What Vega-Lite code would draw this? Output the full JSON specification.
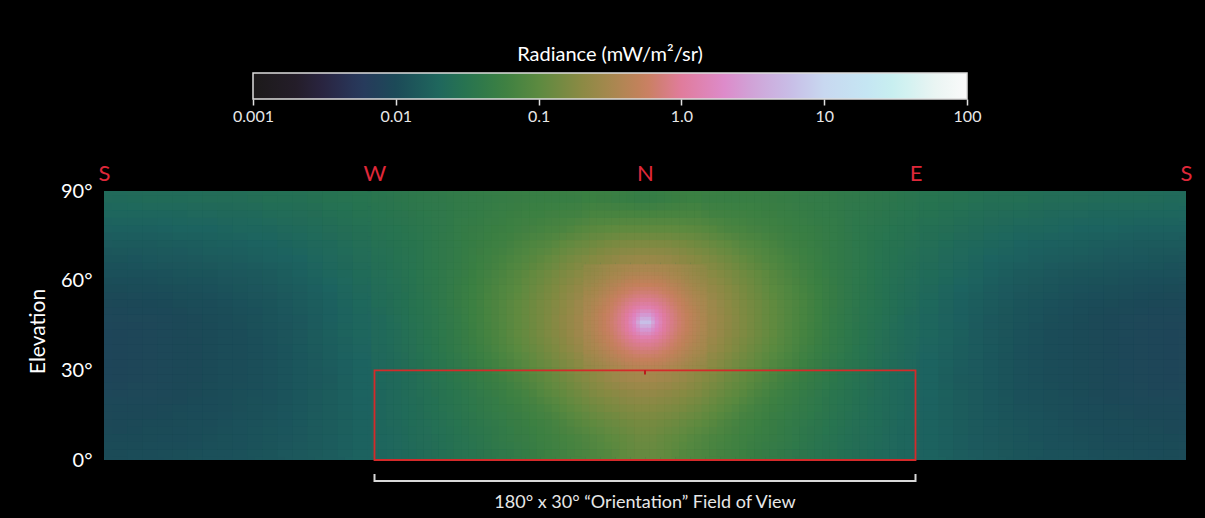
{
"$schema": "https://vega.github.io/schema/vega-lite/v6.json",
"width": 1082, "height": 269,
"autosize": {"type": "none"},
"padding": {"left": 104, "top": 191, "right": 19, "bottom": 58},
"background": "#000000",
"config": {"view": {"stroke": null, "fill": "#1f5856"}, "font": "Lato", "axis": {"grid": false, "domain": false, "ticks": false}},
"datasets": {
"outer": [
{"a":0,"e":0,"r":0.0103},{"a":10,"e":0,"r":0.0106},{"a":20,"e":0,"r":0.0109},{"a":30,"e":0,"r":0.0114},{"a":40,"e":0,"r":0.012},{"a":50,"e":0,"r":0.0128},{"a":60,"e":0,"r":0.0138},{"a":70,"e":0,"r":0.015},{"a":80,"e":0,"r":0.0169},{"a":270,"e":0,"r":0.0169},{"a":280,"e":0,"r":0.015},{"a":290,"e":0,"r":0.0138},{"a":300,"e":0,"r":0.0128},{"a":310,"e":0,"r":0.012},{"a":320,"e":0,"r":0.0114},{"a":330,"e":0,"r":0.0109},{"a":340,"e":0,"r":0.0106},{"a":350,"e":0,"r":0.0103},
{"a":0,"e":5,"r":0.00995},{"a":10,"e":5,"r":0.0102},{"a":20,"e":5,"r":0.0105},{"a":30,"e":5,"r":0.0111},{"a":40,"e":5,"r":0.0116},{"a":50,"e":5,"r":0.0125},{"a":60,"e":5,"r":0.0135},{"a":70,"e":5,"r":0.0149},{"a":80,"e":5,"r":0.017},{"a":270,"e":5,"r":0.017},{"a":280,"e":5,"r":0.0149},{"a":290,"e":5,"r":0.0135},{"a":300,"e":5,"r":0.0125},{"a":310,"e":5,"r":0.0116},{"a":320,"e":5,"r":0.0111},{"a":330,"e":5,"r":0.0105},{"a":340,"e":5,"r":0.0102},{"a":350,"e":5,"r":0.00995},
{"a":0,"e":10,"r":0.00962},{"a":10,"e":10,"r":0.00986},{"a":20,"e":10,"r":0.0102},{"a":30,"e":10,"r":0.0107},{"a":40,"e":10,"r":0.0114},{"a":50,"e":10,"r":0.0122},{"a":60,"e":10,"r":0.0132},{"a":70,"e":10,"r":0.0148},{"a":80,"e":10,"r":0.017},{"a":270,"e":10,"r":0.017},{"a":280,"e":10,"r":0.0148},{"a":290,"e":10,"r":0.0132},{"a":300,"e":10,"r":0.0122},{"a":310,"e":10,"r":0.0114},{"a":320,"e":10,"r":0.0107},{"a":330,"e":10,"r":0.0102},{"a":340,"e":10,"r":0.00986},{"a":350,"e":10,"r":0.00962},
{"a":0,"e":15,"r":0.00933},{"a":10,"e":15,"r":0.00957},{"a":20,"e":15,"r":0.00998},{"a":30,"e":15,"r":0.0105},{"a":40,"e":15,"r":0.0111},{"a":50,"e":15,"r":0.0119},{"a":60,"e":15,"r":0.0131},{"a":70,"e":15,"r":0.0148},{"a":80,"e":15,"r":0.0172},{"a":270,"e":15,"r":0.0172},{"a":280,"e":15,"r":0.0148},{"a":290,"e":15,"r":0.0131},{"a":300,"e":15,"r":0.0119},{"a":310,"e":15,"r":0.0111},{"a":320,"e":15,"r":0.0105},{"a":330,"e":15,"r":0.00998},{"a":340,"e":15,"r":0.00957},{"a":350,"e":15,"r":0.00933},
{"a":0,"e":20,"r":0.00906},{"a":10,"e":20,"r":0.00929},{"a":20,"e":20,"r":0.00973},{"a":30,"e":20,"r":0.0102},{"a":40,"e":20,"r":0.0109},{"a":50,"e":20,"r":0.0117},{"a":60,"e":20,"r":0.013},{"a":70,"e":20,"r":0.0148},{"a":80,"e":20,"r":0.0174},{"a":270,"e":20,"r":0.0174},{"a":280,"e":20,"r":0.0148},{"a":290,"e":20,"r":0.013},{"a":300,"e":20,"r":0.0117},{"a":310,"e":20,"r":0.0109},{"a":320,"e":20,"r":0.0102},{"a":330,"e":20,"r":0.00973},{"a":340,"e":20,"r":0.00929},{"a":350,"e":20,"r":0.00906},
{"a":0,"e":25,"r":0.00885},{"a":10,"e":25,"r":0.0091},{"a":20,"e":25,"r":0.0095},{"a":30,"e":25,"r":0.00998},{"a":40,"e":25,"r":0.0107},{"a":50,"e":25,"r":0.0115},{"a":60,"e":25,"r":0.0129},{"a":70,"e":25,"r":0.0147},{"a":80,"e":25,"r":0.0175},{"a":270,"e":25,"r":0.0175},{"a":280,"e":25,"r":0.0147},{"a":290,"e":25,"r":0.0129},{"a":300,"e":25,"r":0.0115},{"a":310,"e":25,"r":0.0107},{"a":320,"e":25,"r":0.00998},{"a":330,"e":25,"r":0.0095},{"a":340,"e":25,"r":0.0091},{"a":350,"e":25,"r":0.00885},
{"a":0,"e":30,"r":0.00877},{"a":10,"e":30,"r":0.00904},{"a":20,"e":30,"r":0.00946},{"a":30,"e":30,"r":0.00998},{"a":40,"e":30,"r":0.0107},{"a":50,"e":30,"r":0.0116},{"a":60,"e":30,"r":0.013},{"a":70,"e":30,"r":0.0151},{"a":80,"e":30,"r":0.018},{"a":270,"e":30,"r":0.018},{"a":280,"e":30,"r":0.0151},{"a":290,"e":30,"r":0.013},{"a":300,"e":30,"r":0.0116},{"a":310,"e":30,"r":0.0107},{"a":320,"e":30,"r":0.00998},{"a":330,"e":30,"r":0.00946},{"a":340,"e":30,"r":0.00904},{"a":350,"e":30,"r":0.00877},
{"a":0,"e":35,"r":0.00879},{"a":10,"e":35,"r":0.00908},{"a":20,"e":35,"r":0.0095},{"a":30,"e":35,"r":0.0101},{"a":40,"e":35,"r":0.0108},{"a":50,"e":35,"r":0.0117},{"a":60,"e":35,"r":0.0133},{"a":70,"e":35,"r":0.0155},{"a":80,"e":35,"r":0.0186},{"a":270,"e":35,"r":0.0186},{"a":280,"e":35,"r":0.0155},{"a":290,"e":35,"r":0.0133},{"a":300,"e":35,"r":0.0117},{"a":310,"e":35,"r":0.0108},{"a":320,"e":35,"r":0.0101},{"a":330,"e":35,"r":0.0095},{"a":340,"e":35,"r":0.00908},{"a":350,"e":35,"r":0.00879},
{"a":0,"e":40,"r":0.00881},{"a":10,"e":40,"r":0.00912},{"a":20,"e":40,"r":0.00955},{"a":30,"e":40,"r":0.0101},{"a":40,"e":40,"r":0.0108},{"a":50,"e":40,"r":0.0119},{"a":60,"e":40,"r":0.0134},{"a":70,"e":40,"r":0.0158},{"a":80,"e":40,"r":0.019},{"a":270,"e":40,"r":0.019},{"a":280,"e":40,"r":0.0158},{"a":290,"e":40,"r":0.0134},{"a":300,"e":40,"r":0.0119},{"a":310,"e":40,"r":0.0108},{"a":320,"e":40,"r":0.0101},{"a":330,"e":40,"r":0.00955},{"a":340,"e":40,"r":0.00912},{"a":350,"e":40,"r":0.00881},
{"a":0,"e":45,"r":0.00893},{"a":10,"e":45,"r":0.00925},{"a":20,"e":45,"r":0.00968},{"a":30,"e":45,"r":0.0103},{"a":40,"e":45,"r":0.011},{"a":50,"e":45,"r":0.0121},{"a":60,"e":45,"r":0.0137},{"a":70,"e":45,"r":0.016},{"a":80,"e":45,"r":0.0193},{"a":270,"e":45,"r":0.0193},{"a":280,"e":45,"r":0.016},{"a":290,"e":45,"r":0.0137},{"a":300,"e":45,"r":0.0121},{"a":310,"e":45,"r":0.011},{"a":320,"e":45,"r":0.0103},{"a":330,"e":45,"r":0.00968},{"a":340,"e":45,"r":0.00925},{"a":350,"e":45,"r":0.00893},
{"a":0,"e":50,"r":0.00946},{"a":10,"e":50,"r":0.00977},{"a":20,"e":50,"r":0.0102},{"a":30,"e":50,"r":0.0108},{"a":40,"e":50,"r":0.0116},{"a":50,"e":50,"r":0.0127},{"a":60,"e":50,"r":0.0144},{"a":70,"e":50,"r":0.0168},{"a":80,"e":50,"r":0.0202},{"a":270,"e":50,"r":0.0202},{"a":280,"e":50,"r":0.0168},{"a":290,"e":50,"r":0.0144},{"a":300,"e":50,"r":0.0127},{"a":310,"e":50,"r":0.0116},{"a":320,"e":50,"r":0.0108},{"a":330,"e":50,"r":0.0102},{"a":340,"e":50,"r":0.00977},{"a":350,"e":50,"r":0.00946},
{"a":0,"e":55,"r":0.0102},{"a":10,"e":55,"r":0.0106},{"a":20,"e":55,"r":0.011},{"a":30,"e":55,"r":0.0117},{"a":40,"e":55,"r":0.0125},{"a":50,"e":55,"r":0.0136},{"a":60,"e":55,"r":0.0153},{"a":70,"e":55,"r":0.0178},{"a":80,"e":55,"r":0.0213},{"a":270,"e":55,"r":0.0213},{"a":280,"e":55,"r":0.0178},{"a":290,"e":55,"r":0.0153},{"a":300,"e":55,"r":0.0136},{"a":310,"e":55,"r":0.0125},{"a":320,"e":55,"r":0.0117},{"a":330,"e":55,"r":0.011},{"a":340,"e":55,"r":0.0106},{"a":350,"e":55,"r":0.0102},
{"a":0,"e":60,"r":0.0113},{"a":10,"e":60,"r":0.0116},{"a":20,"e":60,"r":0.0122},{"a":30,"e":60,"r":0.0128},{"a":40,"e":60,"r":0.0136},{"a":50,"e":60,"r":0.0147},{"a":60,"e":60,"r":0.0165},{"a":70,"e":60,"r":0.019},{"a":80,"e":60,"r":0.0225},{"a":270,"e":60,"r":0.0225},{"a":280,"e":60,"r":0.019},{"a":290,"e":60,"r":0.0165},{"a":300,"e":60,"r":0.0147},{"a":310,"e":60,"r":0.0136},{"a":320,"e":60,"r":0.0128},{"a":330,"e":60,"r":0.0122},{"a":340,"e":60,"r":0.0116},{"a":350,"e":60,"r":0.0113},
{"a":0,"e":65,"r":0.0126},{"a":10,"e":65,"r":0.0129},{"a":20,"e":65,"r":0.0135},{"a":30,"e":65,"r":0.0141},{"a":40,"e":65,"r":0.0151},{"a":50,"e":65,"r":0.0161},{"a":60,"e":65,"r":0.0179},{"a":70,"e":65,"r":0.0203},{"a":80,"e":65,"r":0.024},{"a":270,"e":65,"r":0.024},{"a":280,"e":65,"r":0.0203},{"a":290,"e":65,"r":0.0179},{"a":300,"e":65,"r":0.0161},{"a":310,"e":65,"r":0.0151},{"a":320,"e":65,"r":0.0141},{"a":330,"e":65,"r":0.0135},{"a":340,"e":65,"r":0.0129},{"a":350,"e":65,"r":0.0126},
{"a":0,"e":70,"r":0.0143},{"a":10,"e":70,"r":0.0146},{"a":20,"e":70,"r":0.0152},{"a":30,"e":70,"r":0.0159},{"a":40,"e":70,"r":0.0168},{"a":50,"e":70,"r":0.0179},{"a":60,"e":70,"r":0.0196},{"a":70,"e":70,"r":0.022},{"a":80,"e":70,"r":0.0254},{"a":270,"e":70,"r":0.0254},{"a":280,"e":70,"r":0.022},{"a":290,"e":70,"r":0.0196},{"a":300,"e":70,"r":0.0179},{"a":310,"e":70,"r":0.0168},{"a":320,"e":70,"r":0.0159},{"a":330,"e":70,"r":0.0152},{"a":340,"e":70,"r":0.0146},{"a":350,"e":70,"r":0.0143},
{"a":0,"e":75,"r":0.0164},{"a":10,"e":75,"r":0.0167},{"a":20,"e":75,"r":0.0173},{"a":30,"e":75,"r":0.0181},{"a":40,"e":75,"r":0.019},{"a":50,"e":75,"r":0.0201},{"a":60,"e":75,"r":0.0217},{"a":70,"e":75,"r":0.024},{"a":80,"e":75,"r":0.0271},{"a":270,"e":75,"r":0.0271},{"a":280,"e":75,"r":0.024},{"a":290,"e":75,"r":0.0217},{"a":300,"e":75,"r":0.0201},{"a":310,"e":75,"r":0.019},{"a":320,"e":75,"r":0.0181},{"a":330,"e":75,"r":0.0173},{"a":340,"e":75,"r":0.0167},{"a":350,"e":75,"r":0.0164},
{"a":0,"e":80,"r":0.019},{"a":10,"e":80,"r":0.0194},{"a":20,"e":80,"r":0.0199},{"a":30,"e":80,"r":0.0207},{"a":40,"e":80,"r":0.0216},{"a":50,"e":80,"r":0.0228},{"a":60,"e":80,"r":0.024},{"a":70,"e":80,"r":0.0263},{"a":80,"e":80,"r":0.029},{"a":270,"e":80,"r":0.029},{"a":280,"e":80,"r":0.0263},{"a":290,"e":80,"r":0.024},{"a":300,"e":80,"r":0.0228},{"a":310,"e":80,"r":0.0216},{"a":320,"e":80,"r":0.0207},{"a":330,"e":80,"r":0.0199},{"a":340,"e":80,"r":0.0194},{"a":350,"e":80,"r":0.019},
{"a":0,"e":85,"r":0.0223},{"a":10,"e":85,"r":0.0226},{"a":20,"e":85,"r":0.0231},{"a":30,"e":85,"r":0.0239},{"a":40,"e":85,"r":0.0248},{"a":50,"e":85,"r":0.0261},{"a":60,"e":85,"r":0.0273},{"a":70,"e":85,"r":0.0292},{"a":80,"e":85,"r":0.0318},{"a":270,"e":85,"r":0.0318},{"a":280,"e":85,"r":0.0292},{"a":290,"e":85,"r":0.0273},{"a":300,"e":85,"r":0.0261},{"a":310,"e":85,"r":0.0248},{"a":320,"e":85,"r":0.0239},{"a":330,"e":85,"r":0.0231},{"a":340,"e":85,"r":0.0226},{"a":350,"e":85,"r":0.0223}
],
"mid": [
{"a":90,"e":0,"r":0.0191},{"a":95,"e":0,"r":0.0204},{"a":100,"e":0,"r":0.0223},{"a":105,"e":0,"r":0.0244},{"a":110,"e":0,"r":0.0268},{"a":115,"e":0,"r":0.0293},{"a":120,"e":0,"r":0.0321},{"a":125,"e":0,"r":0.0353},{"a":130,"e":0,"r":0.0393},{"a":135,"e":0,"r":0.0439},{"a":140,"e":0,"r":0.0493},{"a":145,"e":0,"r":0.0555},{"a":150,"e":0,"r":0.0625},{"a":155,"e":0,"r":0.0703},{"a":160,"e":0,"r":0.0791},{"a":165,"e":0,"r":0.0887},{"a":170,"e":0,"r":0.104},{"a":175,"e":0,"r":0.117},{"a":180,"e":0,"r":0.117},{"a":185,"e":0,"r":0.104},{"a":190,"e":0,"r":0.0887},{"a":195,"e":0,"r":0.0791},{"a":200,"e":0,"r":0.0703},{"a":205,"e":0,"r":0.0625},{"a":210,"e":0,"r":0.0555},{"a":215,"e":0,"r":0.0493},{"a":220,"e":0,"r":0.0439},{"a":225,"e":0,"r":0.0393},{"a":230,"e":0,"r":0.0353},{"a":235,"e":0,"r":0.0321},{"a":240,"e":0,"r":0.0293},{"a":245,"e":0,"r":0.0268},{"a":250,"e":0,"r":0.0244},{"a":255,"e":0,"r":0.0223},{"a":260,"e":0,"r":0.0204},{"a":265,"e":0,"r":0.0191},
{"a":90,"e":5,"r":0.0192},{"a":95,"e":5,"r":0.0209},{"a":100,"e":5,"r":0.0229},{"a":105,"e":5,"r":0.025},{"a":110,"e":5,"r":0.0274},{"a":115,"e":5,"r":0.0299},{"a":120,"e":5,"r":0.0331},{"a":125,"e":5,"r":0.0371},{"a":130,"e":5,"r":0.0417},{"a":135,"e":5,"r":0.0469},{"a":140,"e":5,"r":0.0525},{"a":145,"e":5,"r":0.0586},{"a":150,"e":5,"r":0.0666},{"a":155,"e":5,"r":0.0756},{"a":160,"e":5,"r":0.085},{"a":165,"e":5,"r":0.101},{"a":170,"e":5,"r":0.113},{"a":175,"e":5,"r":0.126},{"a":180,"e":5,"r":0.126},{"a":185,"e":5,"r":0.113},{"a":190,"e":5,"r":0.101},{"a":195,"e":5,"r":0.085},{"a":200,"e":5,"r":0.0756},{"a":205,"e":5,"r":0.0666},{"a":210,"e":5,"r":0.0586},{"a":215,"e":5,"r":0.0525},{"a":220,"e":5,"r":0.0469},{"a":225,"e":5,"r":0.0417},{"a":230,"e":5,"r":0.0371},{"a":235,"e":5,"r":0.0331},{"a":240,"e":5,"r":0.0299},{"a":245,"e":5,"r":0.0274},{"a":250,"e":5,"r":0.025},{"a":255,"e":5,"r":0.0229},{"a":260,"e":5,"r":0.0209},{"a":265,"e":5,"r":0.0192},
{"a":90,"e":10,"r":0.0195},{"a":95,"e":10,"r":0.0213},{"a":100,"e":10,"r":0.0233},{"a":105,"e":10,"r":0.0254},{"a":110,"e":10,"r":0.028},{"a":115,"e":10,"r":0.0312},{"a":120,"e":10,"r":0.0352},{"a":125,"e":10,"r":0.0396},{"a":130,"e":10,"r":0.0445},{"a":135,"e":10,"r":0.0498},{"a":140,"e":10,"r":0.0562},{"a":145,"e":10,"r":0.0631},{"a":150,"e":10,"r":0.0736},{"a":155,"e":10,"r":0.09},{"a":160,"e":10,"r":0.104},{"a":165,"e":10,"r":0.118},{"a":170,"e":10,"r":0.131},{"a":175,"e":10,"r":0.145},{"a":180,"e":10,"r":0.145},{"a":185,"e":10,"r":0.131},{"a":190,"e":10,"r":0.118},{"a":195,"e":10,"r":0.104},{"a":200,"e":10,"r":0.09},{"a":205,"e":10,"r":0.0736},{"a":210,"e":10,"r":0.0631},{"a":215,"e":10,"r":0.0562},{"a":220,"e":10,"r":0.0498},{"a":225,"e":10,"r":0.0445},{"a":230,"e":10,"r":0.0396},{"a":235,"e":10,"r":0.0352},{"a":240,"e":10,"r":0.0312},{"a":245,"e":10,"r":0.028},{"a":250,"e":10,"r":0.0254},{"a":255,"e":10,"r":0.0233},{"a":260,"e":10,"r":0.0213},{"a":265,"e":10,"r":0.0195},
{"a":90,"e":15,"r":0.0199},{"a":95,"e":15,"r":0.0217},{"a":100,"e":15,"r":0.0236},{"a":105,"e":15,"r":0.0262},{"a":110,"e":15,"r":0.0294},{"a":115,"e":15,"r":0.0332},{"a":120,"e":15,"r":0.0375},{"a":125,"e":15,"r":0.0422},{"a":130,"e":15,"r":0.0479},{"a":135,"e":15,"r":0.0547},{"a":140,"e":15,"r":0.0628},{"a":145,"e":15,"r":0.0743},{"a":150,"e":15,"r":0.093},{"a":155,"e":15,"r":0.111},{"a":160,"e":15,"r":0.13},{"a":165,"e":15,"r":0.15},{"a":170,"e":15,"r":0.166},{"a":175,"e":15,"r":0.179},{"a":180,"e":15,"r":0.179},{"a":185,"e":15,"r":0.166},{"a":190,"e":15,"r":0.15},{"a":195,"e":15,"r":0.13},{"a":200,"e":15,"r":0.111},{"a":205,"e":15,"r":0.093},{"a":210,"e":15,"r":0.0743},{"a":215,"e":15,"r":0.0628},{"a":220,"e":15,"r":0.0547},{"a":225,"e":15,"r":0.0479},{"a":230,"e":15,"r":0.0422},{"a":235,"e":15,"r":0.0375},{"a":240,"e":15,"r":0.0332},{"a":245,"e":15,"r":0.0294},{"a":250,"e":15,"r":0.0262},{"a":255,"e":15,"r":0.0236},{"a":260,"e":15,"r":0.0217},{"a":265,"e":15,"r":0.0199},
{"a":90,"e":20,"r":0.02},{"a":95,"e":20,"r":0.0219},{"a":100,"e":20,"r":0.0242},{"a":105,"e":20,"r":0.0272},{"a":110,"e":20,"r":0.0309},{"a":115,"e":20,"r":0.0349},{"a":120,"e":20,"r":0.0395},{"a":125,"e":20,"r":0.0455},{"a":130,"e":20,"r":0.0527},{"a":135,"e":20,"r":0.0617},{"a":140,"e":20,"r":0.0743},{"a":145,"e":20,"r":0.094},{"a":150,"e":20,"r":0.112},{"a":155,"e":20,"r":0.136},{"a":160,"e":20,"r":0.162},{"a":165,"e":20,"r":0.19},{"a":170,"e":20,"r":0.212},{"a":175,"e":20,"r":0.231},{"a":180,"e":20,"r":0.231},{"a":185,"e":20,"r":0.212},{"a":190,"e":20,"r":0.19},{"a":195,"e":20,"r":0.162},{"a":200,"e":20,"r":0.136},{"a":205,"e":20,"r":0.112},{"a":210,"e":20,"r":0.094},{"a":215,"e":20,"r":0.0743},{"a":220,"e":20,"r":0.0617},{"a":225,"e":20,"r":0.0527},{"a":230,"e":20,"r":0.0455},{"a":235,"e":20,"r":0.0395},{"a":240,"e":20,"r":0.0349},{"a":245,"e":20,"r":0.0309},{"a":250,"e":20,"r":0.0272},{"a":255,"e":20,"r":0.0242},{"a":260,"e":20,"r":0.0219},{"a":265,"e":20,"r":0.02},
{"a":90,"e":25,"r":0.0202},{"a":95,"e":25,"r":0.0222},{"a":100,"e":25,"r":0.0249},{"a":105,"e":25,"r":0.0284},{"a":110,"e":25,"r":0.0321},{"a":115,"e":25,"r":0.0366},{"a":120,"e":25,"r":0.0423},{"a":125,"e":25,"r":0.0495},{"a":130,"e":25,"r":0.059},{"a":135,"e":25,"r":0.072},{"a":140,"e":25,"r":0.09},{"a":145,"e":25,"r":0.109},{"a":150,"e":25,"r":0.134},{"a":155,"e":25,"r":0.163},{"a":160,"e":25,"r":0.199},{"a":165,"e":25,"r":0.245},{"a":170,"e":25,"r":0.283},{"a":175,"e":25,"r":0.307},{"a":180,"e":25,"r":0.307},{"a":185,"e":25,"r":0.283},{"a":190,"e":25,"r":0.245},{"a":195,"e":25,"r":0.199},{"a":200,"e":25,"r":0.163},{"a":205,"e":25,"r":0.134},{"a":210,"e":25,"r":0.109},{"a":215,"e":25,"r":0.09},{"a":220,"e":25,"r":0.072},{"a":225,"e":25,"r":0.059},{"a":230,"e":25,"r":0.0495},{"a":235,"e":25,"r":0.0423},{"a":240,"e":25,"r":0.0366},{"a":245,"e":25,"r":0.0321},{"a":250,"e":25,"r":0.0284},{"a":255,"e":25,"r":0.0249},{"a":260,"e":25,"r":0.0222},{"a":265,"e":25,"r":0.0202},
{"a":90,"e":30,"r":0.0207},{"a":95,"e":30,"r":0.0231},{"a":100,"e":30,"r":0.0263},{"a":105,"e":30,"r":0.0301},{"a":110,"e":30,"r":0.0343},{"a":115,"e":30,"r":0.0396},{"a":120,"e":30,"r":0.0468},{"a":125,"e":30,"r":0.0561},{"a":130,"e":30,"r":0.069},{"a":135,"e":30,"r":0.083},{"a":140,"e":30,"r":0.104},{"a":145,"e":30,"r":0.128},{"a":150,"e":30,"r":0.159},{"a":155,"e":30,"r":0.201},{"a":200,"e":30,"r":0.201},{"a":205,"e":30,"r":0.159},{"a":210,"e":30,"r":0.128},{"a":215,"e":30,"r":0.104},{"a":220,"e":30,"r":0.083},{"a":225,"e":30,"r":0.069},{"a":230,"e":30,"r":0.0561},{"a":235,"e":30,"r":0.0468},{"a":240,"e":30,"r":0.0396},{"a":245,"e":30,"r":0.0343},{"a":250,"e":30,"r":0.0301},{"a":255,"e":30,"r":0.0263},{"a":260,"e":30,"r":0.0231},{"a":265,"e":30,"r":0.0207},
{"a":90,"e":35,"r":0.0215},{"a":95,"e":35,"r":0.0243},{"a":100,"e":35,"r":0.0278},{"a":105,"e":35,"r":0.0318},{"a":110,"e":35,"r":0.0366},{"a":115,"e":35,"r":0.043},{"a":120,"e":35,"r":0.0515},{"a":125,"e":35,"r":0.063},{"a":130,"e":35,"r":0.0777},{"a":135,"e":35,"r":0.0975},{"a":140,"e":35,"r":0.12},{"a":145,"e":35,"r":0.148},{"a":150,"e":35,"r":0.187},{"a":155,"e":35,"r":0.244},{"a":200,"e":35,"r":0.244},{"a":205,"e":35,"r":0.187},{"a":210,"e":35,"r":0.148},{"a":215,"e":35,"r":0.12},{"a":220,"e":35,"r":0.0975},{"a":225,"e":35,"r":0.0777},{"a":230,"e":35,"r":0.063},{"a":235,"e":35,"r":0.0515},{"a":240,"e":35,"r":0.043},{"a":245,"e":35,"r":0.0366},{"a":250,"e":35,"r":0.0318},{"a":255,"e":35,"r":0.0278},{"a":260,"e":35,"r":0.0243},{"a":265,"e":35,"r":0.0215},
{"a":90,"e":40,"r":0.022},{"a":95,"e":40,"r":0.0249},{"a":100,"e":40,"r":0.0286},{"a":105,"e":40,"r":0.0329},{"a":110,"e":40,"r":0.0381},{"a":115,"e":40,"r":0.0452},{"a":120,"e":40,"r":0.0548},{"a":125,"e":40,"r":0.0673},{"a":130,"e":40,"r":0.0832},{"a":135,"e":40,"r":0.106},{"a":140,"e":40,"r":0.129},{"a":145,"e":40,"r":0.162},{"a":150,"e":40,"r":0.207},{"a":155,"e":40,"r":0.275},{"a":200,"e":40,"r":0.275},{"a":205,"e":40,"r":0.207},{"a":210,"e":40,"r":0.162},{"a":215,"e":40,"r":0.129},{"a":220,"e":40,"r":0.106},{"a":225,"e":40,"r":0.0832},{"a":230,"e":40,"r":0.0673},{"a":235,"e":40,"r":0.0548},{"a":240,"e":40,"r":0.0452},{"a":245,"e":40,"r":0.0381},{"a":250,"e":40,"r":0.0329},{"a":255,"e":40,"r":0.0286},{"a":260,"e":40,"r":0.0249},{"a":265,"e":40,"r":0.022},
{"a":90,"e":45,"r":0.0223},{"a":95,"e":45,"r":0.0254},{"a":100,"e":45,"r":0.0292},{"a":105,"e":45,"r":0.0335},{"a":110,"e":45,"r":0.0389},{"a":115,"e":45,"r":0.0461},{"a":120,"e":45,"r":0.056},{"a":125,"e":45,"r":0.0689},{"a":130,"e":45,"r":0.085},{"a":135,"e":45,"r":0.108},{"a":140,"e":45,"r":0.132},{"a":145,"e":45,"r":0.165},{"a":150,"e":45,"r":0.213},{"a":155,"e":45,"r":0.283},{"a":200,"e":45,"r":0.283},{"a":205,"e":45,"r":0.213},{"a":210,"e":45,"r":0.165},{"a":215,"e":45,"r":0.132},{"a":220,"e":45,"r":0.108},{"a":225,"e":45,"r":0.085},{"a":230,"e":45,"r":0.0689},{"a":235,"e":45,"r":0.056},{"a":240,"e":45,"r":0.0461},{"a":245,"e":45,"r":0.0389},{"a":250,"e":45,"r":0.0335},{"a":255,"e":45,"r":0.0292},{"a":260,"e":45,"r":0.0254},{"a":265,"e":45,"r":0.0223},
{"a":90,"e":50,"r":0.0233},{"a":95,"e":50,"r":0.0262},{"a":100,"e":50,"r":0.0301},{"a":105,"e":50,"r":0.0344},{"a":110,"e":50,"r":0.0398},{"a":115,"e":50,"r":0.0469},{"a":120,"e":50,"r":0.0565},{"a":125,"e":50,"r":0.0692},{"a":130,"e":50,"r":0.085},{"a":135,"e":50,"r":0.106},{"a":140,"e":50,"r":0.13},{"a":145,"e":50,"r":0.161},{"a":150,"e":50,"r":0.204},{"a":155,"e":50,"r":0.269},{"a":200,"e":50,"r":0.269},{"a":205,"e":50,"r":0.204},{"a":210,"e":50,"r":0.161},{"a":215,"e":50,"r":0.13},{"a":220,"e":50,"r":0.106},{"a":225,"e":50,"r":0.085},{"a":230,"e":50,"r":0.0692},{"a":235,"e":50,"r":0.0565},{"a":240,"e":50,"r":0.0469},{"a":245,"e":50,"r":0.0398},{"a":250,"e":50,"r":0.0344},{"a":255,"e":50,"r":0.0301},{"a":260,"e":50,"r":0.0262},{"a":265,"e":50,"r":0.0233},
{"a":90,"e":55,"r":0.0242},{"a":95,"e":55,"r":0.0271},{"a":100,"e":55,"r":0.0309},{"a":105,"e":55,"r":0.0352},{"a":110,"e":55,"r":0.0401},{"a":115,"e":55,"r":0.0468},{"a":120,"e":55,"r":0.0553},{"a":125,"e":55,"r":0.0668},{"a":130,"e":55,"r":0.0819},{"a":135,"e":55,"r":0.0978},{"a":140,"e":55,"r":0.123},{"a":145,"e":55,"r":0.148},{"a":150,"e":55,"r":0.185},{"a":155,"e":55,"r":0.231},{"a":200,"e":55,"r":0.231},{"a":205,"e":55,"r":0.185},{"a":210,"e":55,"r":0.148},{"a":215,"e":55,"r":0.123},{"a":220,"e":55,"r":0.0978},{"a":225,"e":55,"r":0.0819},{"a":230,"e":55,"r":0.0668},{"a":235,"e":55,"r":0.0553},{"a":240,"e":55,"r":0.0468},{"a":245,"e":55,"r":0.0401},{"a":250,"e":55,"r":0.0352},{"a":255,"e":55,"r":0.0309},{"a":260,"e":55,"r":0.0271},{"a":265,"e":55,"r":0.0242},
{"a":90,"e":60,"r":0.0254},{"a":95,"e":60,"r":0.0281},{"a":100,"e":60,"r":0.0316},{"a":105,"e":60,"r":0.0358},{"a":110,"e":60,"r":0.0405},{"a":115,"e":60,"r":0.0461},{"a":120,"e":60,"r":0.0533},{"a":125,"e":60,"r":0.0628},{"a":130,"e":60,"r":0.0746},{"a":135,"e":60,"r":0.09},{"a":140,"e":60,"r":0.11},{"a":145,"e":60,"r":0.134},{"a":150,"e":60,"r":0.16},{"a":155,"e":60,"r":0.194},{"a":200,"e":60,"r":0.194},{"a":205,"e":60,"r":0.16},{"a":210,"e":60,"r":0.134},{"a":215,"e":60,"r":0.11},{"a":220,"e":60,"r":0.09},{"a":225,"e":60,"r":0.0746},{"a":230,"e":60,"r":0.0628},{"a":235,"e":60,"r":0.0533},{"a":240,"e":60,"r":0.0461},{"a":245,"e":60,"r":0.0405},{"a":250,"e":60,"r":0.0358},{"a":255,"e":60,"r":0.0316},{"a":260,"e":60,"r":0.0281},{"a":265,"e":60,"r":0.0254},
{"a":90,"e":65,"r":0.0268},{"a":95,"e":65,"r":0.0292},{"a":100,"e":65,"r":0.0321},{"a":105,"e":65,"r":0.036},{"a":110,"e":65,"r":0.0405},{"a":115,"e":65,"r":0.0453},{"a":120,"e":65,"r":0.0509},{"a":125,"e":65,"r":0.0582},{"a":130,"e":65,"r":0.0668},{"a":135,"e":65,"r":0.0788},{"a":140,"e":65,"r":0.0915},{"a":145,"e":65,"r":0.111},{"a":150,"e":65,"r":0.131},{"a":155,"e":65,"r":0.155},{"a":160,"e":65,"r":0.182},{"a":165,"e":65,"r":0.208},{"a":170,"e":65,"r":0.236},{"a":175,"e":65,"r":0.248},{"a":180,"e":65,"r":0.248},{"a":185,"e":65,"r":0.236},{"a":190,"e":65,"r":0.208},{"a":195,"e":65,"r":0.182},{"a":200,"e":65,"r":0.155},{"a":205,"e":65,"r":0.131},{"a":210,"e":65,"r":0.111},{"a":215,"e":65,"r":0.0915},{"a":220,"e":65,"r":0.0788},{"a":225,"e":65,"r":0.0668},{"a":230,"e":65,"r":0.0582},{"a":235,"e":65,"r":0.0509},{"a":240,"e":65,"r":0.0453},{"a":245,"e":65,"r":0.0405},{"a":250,"e":65,"r":0.036},{"a":255,"e":65,"r":0.0321},{"a":260,"e":65,"r":0.0292},{"a":265,"e":65,"r":0.0268},
{"a":90,"e":70,"r":0.0282},{"a":95,"e":70,"r":0.0305},{"a":100,"e":70,"r":0.0329},{"a":105,"e":70,"r":0.036},{"a":110,"e":70,"r":0.0401},{"a":115,"e":70,"r":0.0445},{"a":120,"e":70,"r":0.0489},{"a":125,"e":70,"r":0.0541},{"a":130,"e":70,"r":0.0601},{"a":135,"e":70,"r":0.0681},{"a":140,"e":70,"r":0.0772},{"a":145,"e":70,"r":0.0864},{"a":150,"e":70,"r":0.1045},{"a":155,"e":70,"r":0.119},{"a":160,"e":70,"r":0.134},{"a":165,"e":70,"r":0.148},{"a":170,"e":70,"r":0.16},{"a":175,"e":70,"r":0.163},{"a":180,"e":70,"r":0.163},{"a":185,"e":70,"r":0.16},{"a":190,"e":70,"r":0.148},{"a":195,"e":70,"r":0.134},{"a":200,"e":70,"r":0.119},{"a":205,"e":70,"r":0.1045},{"a":210,"e":70,"r":0.0864},{"a":215,"e":70,"r":0.0772},{"a":220,"e":70,"r":0.0681},{"a":225,"e":70,"r":0.0601},{"a":230,"e":70,"r":0.0541},{"a":235,"e":70,"r":0.0489},{"a":240,"e":70,"r":0.0445},{"a":245,"e":70,"r":0.0401},{"a":250,"e":70,"r":0.036},{"a":255,"e":70,"r":0.0329},{"a":260,"e":70,"r":0.0305},{"a":265,"e":70,"r":0.0282},
{"a":90,"e":75,"r":0.0299},{"a":95,"e":75,"r":0.032},{"a":100,"e":75,"r":0.0342},{"a":105,"e":75,"r":0.0365},{"a":110,"e":75,"r":0.0394},{"a":115,"e":75,"r":0.0433},{"a":120,"e":75,"r":0.0471},{"a":125,"e":75,"r":0.0511},{"a":130,"e":75,"r":0.0548},{"a":135,"e":75,"r":0.0593},{"a":140,"e":75,"r":0.0647},{"a":145,"e":75,"r":0.0704},{"a":150,"e":75,"r":0.0754},{"a":155,"e":75,"r":0.087},{"a":160,"e":75,"r":0.096},{"a":165,"e":75,"r":0.103},{"a":170,"e":75,"r":0.107},{"a":175,"e":75,"r":0.107},{"a":180,"e":75,"r":0.107},{"a":185,"e":75,"r":0.107},{"a":190,"e":75,"r":0.103},{"a":195,"e":75,"r":0.096},{"a":200,"e":75,"r":0.087},{"a":205,"e":75,"r":0.0754},{"a":210,"e":75,"r":0.0704},{"a":215,"e":75,"r":0.0647},{"a":220,"e":75,"r":0.0593},{"a":225,"e":75,"r":0.0548},{"a":230,"e":75,"r":0.0511},{"a":235,"e":75,"r":0.0471},{"a":240,"e":75,"r":0.0433},{"a":245,"e":75,"r":0.0394},{"a":250,"e":75,"r":0.0365},{"a":255,"e":75,"r":0.0342},{"a":260,"e":75,"r":0.032},{"a":265,"e":75,"r":0.0299},
{"a":90,"e":80,"r":0.0315},{"a":95,"e":80,"r":0.0336},{"a":100,"e":80,"r":0.0356},{"a":105,"e":80,"r":0.0377},{"a":110,"e":80,"r":0.0396},{"a":115,"e":80,"r":0.0423},{"a":120,"e":80,"r":0.0451},{"a":125,"e":80,"r":0.0483},{"a":130,"e":80,"r":0.0513},{"a":135,"e":80,"r":0.054},{"a":140,"e":80,"r":0.056},{"a":145,"e":80,"r":0.059},{"a":150,"e":80,"r":0.0614},{"a":155,"e":80,"r":0.0631},{"a":160,"e":80,"r":0.07},{"a":165,"e":80,"r":0.071},{"a":170,"e":80,"r":0.071},{"a":175,"e":80,"r":0.069},{"a":180,"e":80,"r":0.069},{"a":185,"e":80,"r":0.071},{"a":190,"e":80,"r":0.071},{"a":195,"e":80,"r":0.07},{"a":200,"e":80,"r":0.0631},{"a":205,"e":80,"r":0.0614},{"a":210,"e":80,"r":0.059},{"a":215,"e":80,"r":0.056},{"a":220,"e":80,"r":0.054},{"a":225,"e":80,"r":0.0513},{"a":230,"e":80,"r":0.0483},{"a":235,"e":80,"r":0.0451},{"a":240,"e":80,"r":0.0423},{"a":245,"e":80,"r":0.0396},{"a":250,"e":80,"r":0.0377},{"a":255,"e":80,"r":0.0356},{"a":260,"e":80,"r":0.0336},{"a":265,"e":80,"r":0.0315},
{"a":90,"e":85,"r":0.0335},{"a":95,"e":85,"r":0.0353},{"a":100,"e":85,"r":0.0372},{"a":105,"e":85,"r":0.0391},{"a":110,"e":85,"r":0.0408},{"a":115,"e":85,"r":0.0425},{"a":120,"e":85,"r":0.0441},{"a":125,"e":85,"r":0.0459},{"a":130,"e":85,"r":0.0478},{"a":135,"e":85,"r":0.0495},{"a":140,"e":85,"r":0.0507},{"a":145,"e":85,"r":0.0514},{"a":150,"e":85,"r":0.0523},{"a":155,"e":85,"r":0.0525},{"a":160,"e":85,"r":0.055},{"a":165,"e":85,"r":0.054},{"a":170,"e":85,"r":0.051},{"a":175,"e":85,"r":0.048},{"a":180,"e":85,"r":0.048},{"a":185,"e":85,"r":0.051},{"a":190,"e":85,"r":0.054},{"a":195,"e":85,"r":0.055},{"a":200,"e":85,"r":0.0525},{"a":205,"e":85,"r":0.0523},{"a":210,"e":85,"r":0.0514},{"a":215,"e":85,"r":0.0507},{"a":220,"e":85,"r":0.0495},{"a":225,"e":85,"r":0.0478},{"a":230,"e":85,"r":0.0459},{"a":235,"e":85,"r":0.0441},{"a":240,"e":85,"r":0.0425},{"a":245,"e":85,"r":0.0408},{"a":250,"e":85,"r":0.0391},{"a":255,"e":85,"r":0.0372},{"a":260,"e":85,"r":0.0353},{"a":265,"e":85,"r":0.0335}
],
"fine": [
{"a":160,"e":30,"r":0.228},{"a":162.5,"e":30,"r":0.258},{"a":165,"e":30,"r":0.287},{"a":167.5,"e":30,"r":0.32},{"a":170,"e":30,"r":0.352},{"a":172.5,"e":30,"r":0.388},{"a":175,"e":30,"r":0.413},{"a":177.5,"e":30,"r":0.425},{"a":180,"e":30,"r":0.425},{"a":182.5,"e":30,"r":0.413},{"a":185,"e":30,"r":0.388},{"a":187.5,"e":30,"r":0.352},{"a":190,"e":30,"r":0.32},{"a":192.5,"e":30,"r":0.287},{"a":195,"e":30,"r":0.258},{"a":197.5,"e":30,"r":0.228},
{"a":160,"e":32.5,"r":0.26},{"a":162.5,"e":32.5,"r":0.293},{"a":165,"e":32.5,"r":0.335},{"a":167.5,"e":32.5,"r":0.38},{"a":170,"e":32.5,"r":0.43},{"a":172.5,"e":32.5,"r":0.487},{"a":175,"e":32.5,"r":0.521},{"a":177.5,"e":32.5,"r":0.54},{"a":180,"e":32.5,"r":0.54},{"a":182.5,"e":32.5,"r":0.521},{"a":185,"e":32.5,"r":0.487},{"a":187.5,"e":32.5,"r":0.43},{"a":190,"e":32.5,"r":0.38},{"a":192.5,"e":32.5,"r":0.335},{"a":195,"e":32.5,"r":0.293},{"a":197.5,"e":32.5,"r":0.26},
{"a":160,"e":35,"r":0.289},{"a":162.5,"e":35,"r":0.33},{"a":165,"e":35,"r":0.384},{"a":167.5,"e":35,"r":0.444},{"a":170,"e":35,"r":0.518},{"a":172.5,"e":35,"r":0.596},{"a":175,"e":35,"r":0.658},{"a":177.5,"e":35,"r":0.696},{"a":180,"e":35,"r":0.696},{"a":182.5,"e":35,"r":0.658},{"a":185,"e":35,"r":0.596},{"a":187.5,"e":35,"r":0.518},{"a":190,"e":35,"r":0.444},{"a":192.5,"e":35,"r":0.384},{"a":195,"e":35,"r":0.33},{"a":197.5,"e":35,"r":0.289},
{"a":160,"e":37.5,"r":0.314},{"a":162.5,"e":37.5,"r":0.368},{"a":165,"e":37.5,"r":0.433},{"a":167.5,"e":37.5,"r":0.52},{"a":170,"e":37.5,"r":0.617},{"a":172.5,"e":37.5,"r":0.729},{"a":175,"e":37.5,"r":0.842},{"a":177.5,"e":37.5,"r":0.907},{"a":180,"e":37.5,"r":0.907},{"a":182.5,"e":37.5,"r":0.842},{"a":185,"e":37.5,"r":0.729},{"a":187.5,"e":37.5,"r":0.617},{"a":190,"e":37.5,"r":0.52},{"a":192.5,"e":37.5,"r":0.433},{"a":195,"e":37.5,"r":0.368},{"a":197.5,"e":37.5,"r":0.314},
{"a":160,"e":40,"r":0.335},{"a":162.5,"e":40,"r":0.398},{"a":165,"e":40,"r":0.476},{"a":167.5,"e":40,"r":0.581},{"a":170,"e":40,"r":0.711},{"a":172.5,"e":40,"r":0.877},{"a":175,"e":40,"r":1.09},{"a":177.5,"e":40,"r":1.3},{"a":180,"e":40,"r":1.3},{"a":182.5,"e":40,"r":1.09},{"a":185,"e":40,"r":0.877},{"a":187.5,"e":40,"r":0.711},{"a":190,"e":40,"r":0.581},{"a":192.5,"e":40,"r":0.476},{"a":195,"e":40,"r":0.398},{"a":197.5,"e":40,"r":0.335},
{"a":160,"e":42.5,"r":0.352},{"a":162.5,"e":42.5,"r":0.42},{"a":165,"e":42.5,"r":0.516},{"a":167.5,"e":42.5,"r":0.63},{"a":170,"e":42.5,"r":0.795},{"a":172.5,"e":42.5,"r":1.03},{"a":175,"e":42.5,"r":1.58},{"a":177.5,"e":42.5,"r":2.6},{"a":180,"e":42.5,"r":2.6},{"a":182.5,"e":42.5,"r":1.58},{"a":185,"e":42.5,"r":1.03},{"a":187.5,"e":42.5,"r":0.795},{"a":190,"e":42.5,"r":0.63},{"a":192.5,"e":42.5,"r":0.516},{"a":195,"e":42.5,"r":0.42},{"a":197.5,"e":42.5,"r":0.352},
{"a":160,"e":45,"r":0.355},{"a":162.5,"e":45,"r":0.43},{"a":165,"e":45,"r":0.52},{"a":167.5,"e":45,"r":0.65},{"a":170,"e":45,"r":0.83},{"a":172.5,"e":45,"r":1.1},{"a":175,"e":45,"r":2.0},{"a":177.5,"e":45,"r":6},{"a":180,"e":45,"r":6},{"a":182.5,"e":45,"r":2.0},{"a":185,"e":45,"r":1.1},{"a":187.5,"e":45,"r":0.83},{"a":190,"e":45,"r":0.65},{"a":192.5,"e":45,"r":0.52},{"a":195,"e":45,"r":0.43},{"a":197.5,"e":45,"r":0.355},
{"a":160,"e":47.5,"r":0.352},{"a":162.5,"e":47.5,"r":0.42},{"a":165,"e":47.5,"r":0.516},{"a":167.5,"e":47.5,"r":0.63},{"a":170,"e":47.5,"r":0.795},{"a":172.5,"e":47.5,"r":1.03},{"a":175,"e":47.5,"r":1.58},{"a":177.5,"e":47.5,"r":2.6},{"a":180,"e":47.5,"r":2.6},{"a":182.5,"e":47.5,"r":1.58},{"a":185,"e":47.5,"r":1.03},{"a":187.5,"e":47.5,"r":0.795},{"a":190,"e":47.5,"r":0.63},{"a":192.5,"e":47.5,"r":0.516},{"a":195,"e":47.5,"r":0.42},{"a":197.5,"e":47.5,"r":0.352},
{"a":160,"e":50,"r":0.335},{"a":162.5,"e":50,"r":0.398},{"a":165,"e":50,"r":0.476},{"a":167.5,"e":50,"r":0.581},{"a":170,"e":50,"r":0.711},{"a":172.5,"e":50,"r":0.877},{"a":175,"e":50,"r":1.09},{"a":177.5,"e":50,"r":1.3},{"a":180,"e":50,"r":1.3},{"a":182.5,"e":50,"r":1.09},{"a":185,"e":50,"r":0.877},{"a":187.5,"e":50,"r":0.711},{"a":190,"e":50,"r":0.581},{"a":192.5,"e":50,"r":0.476},{"a":195,"e":50,"r":0.398},{"a":197.5,"e":50,"r":0.335},
{"a":160,"e":52.5,"r":0.314},{"a":162.5,"e":52.5,"r":0.368},{"a":165,"e":52.5,"r":0.433},{"a":167.5,"e":52.5,"r":0.52},{"a":170,"e":52.5,"r":0.617},{"a":172.5,"e":52.5,"r":0.729},{"a":175,"e":52.5,"r":0.842},{"a":177.5,"e":52.5,"r":0.907},{"a":180,"e":52.5,"r":0.907},{"a":182.5,"e":52.5,"r":0.842},{"a":185,"e":52.5,"r":0.729},{"a":187.5,"e":52.5,"r":0.617},{"a":190,"e":52.5,"r":0.52},{"a":192.5,"e":52.5,"r":0.433},{"a":195,"e":52.5,"r":0.368},{"a":197.5,"e":52.5,"r":0.314},
{"a":160,"e":55,"r":0.289},{"a":162.5,"e":55,"r":0.33},{"a":165,"e":55,"r":0.384},{"a":167.5,"e":55,"r":0.444},{"a":170,"e":55,"r":0.518},{"a":172.5,"e":55,"r":0.596},{"a":175,"e":55,"r":0.658},{"a":177.5,"e":55,"r":0.696},{"a":180,"e":55,"r":0.696},{"a":182.5,"e":55,"r":0.658},{"a":185,"e":55,"r":0.596},{"a":187.5,"e":55,"r":0.518},{"a":190,"e":55,"r":0.444},{"a":192.5,"e":55,"r":0.384},{"a":195,"e":55,"r":0.33},{"a":197.5,"e":55,"r":0.289},
{"a":160,"e":57.5,"r":0.26},{"a":162.5,"e":57.5,"r":0.293},{"a":165,"e":57.5,"r":0.335},{"a":167.5,"e":57.5,"r":0.38},{"a":170,"e":57.5,"r":0.43},{"a":172.5,"e":57.5,"r":0.487},{"a":175,"e":57.5,"r":0.521},{"a":177.5,"e":57.5,"r":0.54},{"a":180,"e":57.5,"r":0.54},{"a":182.5,"e":57.5,"r":0.521},{"a":185,"e":57.5,"r":0.487},{"a":187.5,"e":57.5,"r":0.43},{"a":190,"e":57.5,"r":0.38},{"a":192.5,"e":57.5,"r":0.335},{"a":195,"e":57.5,"r":0.293},{"a":197.5,"e":57.5,"r":0.26},
{"a":160,"e":60,"r":0.228},{"a":162.5,"e":60,"r":0.258},{"a":165,"e":60,"r":0.287},{"a":167.5,"e":60,"r":0.32},{"a":170,"e":60,"r":0.352},{"a":172.5,"e":60,"r":0.388},{"a":175,"e":60,"r":0.413},{"a":177.5,"e":60,"r":0.425},{"a":180,"e":60,"r":0.425},{"a":182.5,"e":60,"r":0.413},{"a":185,"e":60,"r":0.388},{"a":187.5,"e":60,"r":0.352},{"a":190,"e":60,"r":0.32},{"a":192.5,"e":60,"r":0.287},{"a":195,"e":60,"r":0.258},{"a":197.5,"e":60,"r":0.228},
{"a":160,"e":62.5,"r":0.211},{"a":162.5,"e":62.5,"r":0.235},{"a":165,"e":62.5,"r":0.258},{"a":167.5,"e":62.5,"r":0.279},{"a":170,"e":62.5,"r":0.3},{"a":172.5,"e":62.5,"r":0.32},{"a":175,"e":62.5,"r":0.334},{"a":177.5,"e":62.5,"r":0.339},{"a":180,"e":62.5,"r":0.339},{"a":182.5,"e":62.5,"r":0.334},{"a":185,"e":62.5,"r":0.32},{"a":187.5,"e":62.5,"r":0.3},{"a":190,"e":62.5,"r":0.279},{"a":192.5,"e":62.5,"r":0.258},{"a":195,"e":62.5,"r":0.235},{"a":197.5,"e":62.5,"r":0.211}
],
"fov": [{"a":90,"a2":270,"e":0,"e2":30}],
"bracket": [{"a":90,"a2":270,"e":0}],
"bracketEnds": [{"a":90,"e":0},{"a":270,"e":0}],
"caption": [{"a":180,"e":0,"t":"180° x 30° “Orientation” Field of View"}],
"marker": [{"a":180,"e":28.6,"e2":30}],
"ticks": [{"v":0.001},{"v":0.01},{"v":0.1},{"v":1},{"v":10},{"v":100}]
},
"layer": [
{"layer": [
{"data": {"name": "outer"},
 "mark": {"type": "rect", "clip": true},
 "encoding": {
  "x": {"field": "a", "type": "quantitative", "bin": {"binned": true, "step": 10}, "scale": {"domain": [0, 360], "nice": false, "zero": false},
        "axis": {"orient": "top", "values": [0, 90, 180, 270, 360], "labelExpr": "datum.value == 90 ? 'W' : datum.value == 180 ? 'N' : datum.value == 270 ? 'E' : 'S'", "labelColor": "#e0283a", "labelFontSize": 22, "labelPadding": 6, "labelFlush": false, "labelOverlap": false, "title": null}},
  "y": {"field": "e", "type": "quantitative", "bin": {"binned": true, "step": 5}, "scale": {"domain": [0, 90], "nice": false, "zero": false},
        "axis": {"orient": "left", "values": [0, 30, 60, 90], "labelExpr": "datum.value + '°'", "labelColor": "#ffffff", "labelFontSize": 20, "labelPadding": 12, "labelFlush": false, "labelOverlap": false,
                 "title": "Elevation", "titleColor": "#ffffff", "titleFontSize": 21, "titleFontWeight": "normal", "titleX": -66, "titleY": 140, "titleAngle": -90, "titleAlign": "center", "titleBaseline": "middle"}},
  "color": {"field": "r", "type": "quantitative",
    "scale": {"type": "log", "interpolate": "rgb", "domain": [0.001, 100],
      "range": ["#1c1a1a", "#221b22", "#2a2542", "#28395c", "#1c4a58", "#1d6460", "#287450", "#3c8042", "#5c8a40", "#848a42", "#a6884e", "#c8805e", "#e07c9c", "#e084c6", "#d0a4d8", "#c8bce6", "#c8d8f0", "#c4e4f4", "#c8f0f0", "#e8f4f2", "#fafafa"]},
    "legend": {"type": "gradient", "orient": "none", "legendX": 149, "legendY": -146, "direction": "horizontal", "gradientLength": 714, "gradientThickness": 26, "gradientStrokeColor": "#dddddd", "gradientStrokeWidth": 1.5,
               "title": "Radiance (mW/m²/sr)", "titleColor": "#ffffff", "titleFontSize": 20, "titleFontWeight": "normal", "titleAnchor": "middle", "titleLimit": 600, "titlePadding": 8,
               "values": [0.001], "labelExpr": "''", "labelFontSize": 1}}
 }},
{"data": {"name": "outer"}, "mark": {"type": "rect", "clip": true, "xOffset": -7.5, "x2Offset": -7.5, "yOffset": -3.73, "y2Offset": -3.73},
 "encoding": {"x": {"field": "a", "type": "quantitative", "bin": {"binned": true, "step": 10}}, "y": {"field": "e", "type": "quantitative", "bin": {"binned": true, "step": 5}}, "color": {"field": "r", "type": "quantitative", "legend": null}}},
{"data": {"name": "outer"}, "mark": {"type": "rect", "clip": true, "opacity": 0.5, "xOffset": 7.5, "x2Offset": 7.5, "yOffset": -3.73, "y2Offset": -3.73},
 "encoding": {"x": {"field": "a", "type": "quantitative", "bin": {"binned": true, "step": 10}}, "y": {"field": "e", "type": "quantitative", "bin": {"binned": true, "step": 5}}, "color": {"field": "r", "type": "quantitative", "legend": null}}},
{"data": {"name": "outer"}, "mark": {"type": "rect", "clip": true, "opacity": 0.3333, "xOffset": -7.5, "x2Offset": -7.5, "yOffset": 3.73, "y2Offset": 3.73},
 "encoding": {"x": {"field": "a", "type": "quantitative", "bin": {"binned": true, "step": 10}}, "y": {"field": "e", "type": "quantitative", "bin": {"binned": true, "step": 5}}, "color": {"field": "r", "type": "quantitative", "legend": null}}},
{"data": {"name": "outer"}, "mark": {"type": "rect", "clip": true, "opacity": 0.25, "xOffset": 7.5, "x2Offset": 7.5, "yOffset": 3.73, "y2Offset": 3.73},
 "encoding": {"x": {"field": "a", "type": "quantitative", "bin": {"binned": true, "step": 10}}, "y": {"field": "e", "type": "quantitative", "bin": {"binned": true, "step": 5}}, "color": {"field": "r", "type": "quantitative", "legend": null}}},
{"data": {"name": "mid"}, "mark": {"type": "rect", "clip": true},
 "encoding": {"x": {"field": "a", "type": "quantitative", "bin": {"binned": true, "step": 5}}, "y": {"field": "e", "type": "quantitative", "bin": {"binned": true, "step": 5}}, "color": {"field": "r", "type": "quantitative", "legend": null}}},
{"data": {"name": "mid"}, "mark": {"type": "rect", "clip": true, "xOffset": -3.76, "x2Offset": -3.76, "yOffset": -3.73, "y2Offset": -3.73},
 "encoding": {"x": {"field": "a", "type": "quantitative", "bin": {"binned": true, "step": 5}}, "y": {"field": "e", "type": "quantitative", "bin": {"binned": true, "step": 5}}, "color": {"field": "r", "type": "quantitative", "legend": null}}},
{"data": {"name": "mid"}, "mark": {"type": "rect", "clip": true, "opacity": 0.5, "xOffset": 3.76, "x2Offset": 3.76, "yOffset": -3.73, "y2Offset": -3.73},
 "encoding": {"x": {"field": "a", "type": "quantitative", "bin": {"binned": true, "step": 5}}, "y": {"field": "e", "type": "quantitative", "bin": {"binned": true, "step": 5}}, "color": {"field": "r", "type": "quantitative", "legend": null}}},
{"data": {"name": "mid"}, "mark": {"type": "rect", "clip": true, "opacity": 0.3333, "xOffset": -3.76, "x2Offset": -3.76, "yOffset": 3.73, "y2Offset": 3.73},
 "encoding": {"x": {"field": "a", "type": "quantitative", "bin": {"binned": true, "step": 5}}, "y": {"field": "e", "type": "quantitative", "bin": {"binned": true, "step": 5}}, "color": {"field": "r", "type": "quantitative", "legend": null}}},
{"data": {"name": "mid"}, "mark": {"type": "rect", "clip": true, "opacity": 0.25, "xOffset": 3.76, "x2Offset": 3.76, "yOffset": 3.73, "y2Offset": 3.73},
 "encoding": {"x": {"field": "a", "type": "quantitative", "bin": {"binned": true, "step": 5}}, "y": {"field": "e", "type": "quantitative", "bin": {"binned": true, "step": 5}}, "color": {"field": "r", "type": "quantitative", "legend": null}}},
{"data": {"name": "fine"}, "mark": {"type": "rect", "clip": true},
 "encoding": {"x": {"field": "a", "type": "quantitative", "bin": {"binned": true, "step": 2.5}}, "y": {"field": "e", "type": "quantitative", "bin": {"binned": true, "step": 2.5}}, "color": {"field": "r", "type": "quantitative", "legend": null}}},
{"data": {"name": "fine"}, "mark": {"type": "rect", "clip": true, "xOffset": -1.88, "x2Offset": -1.88, "yOffset": -1.87, "y2Offset": -1.87},
 "encoding": {"x": {"field": "a", "type": "quantitative", "bin": {"binned": true, "step": 2.5}}, "y": {"field": "e", "type": "quantitative", "bin": {"binned": true, "step": 2.5}}, "color": {"field": "r", "type": "quantitative", "legend": null}}},
{"data": {"name": "fine"}, "mark": {"type": "rect", "clip": true, "opacity": 0.5, "xOffset": 1.88, "x2Offset": 1.88, "yOffset": -1.87, "y2Offset": -1.87},
 "encoding": {"x": {"field": "a", "type": "quantitative", "bin": {"binned": true, "step": 2.5}}, "y": {"field": "e", "type": "quantitative", "bin": {"binned": true, "step": 2.5}}, "color": {"field": "r", "type": "quantitative", "legend": null}}},
{"data": {"name": "fine"}, "mark": {"type": "rect", "clip": true, "opacity": 0.3333, "xOffset": -1.88, "x2Offset": -1.88, "yOffset": 1.87, "y2Offset": 1.87},
 "encoding": {"x": {"field": "a", "type": "quantitative", "bin": {"binned": true, "step": 2.5}}, "y": {"field": "e", "type": "quantitative", "bin": {"binned": true, "step": 2.5}}, "color": {"field": "r", "type": "quantitative", "legend": null}}},
{"data": {"name": "fine"}, "mark": {"type": "rect", "clip": true, "opacity": 0.25, "xOffset": 1.88, "x2Offset": 1.88, "yOffset": 1.87, "y2Offset": 1.87},
 "encoding": {"x": {"field": "a", "type": "quantitative", "bin": {"binned": true, "step": 2.5}}, "y": {"field": "e", "type": "quantitative", "bin": {"binned": true, "step": 2.5}}, "color": {"field": "r", "type": "quantitative", "legend": null}}},
{"data": {"name": "fov"},
 "mark": {"type": "rect", "fill": "transparent", "stroke": "#d42a2a", "strokeWidth": 1.8},
 "encoding": {
  "x": {"field": "a", "type": "quantitative"}, "x2": {"field": "a2"},
  "y": {"field": "e", "type": "quantitative"}, "y2": {"field": "e2"}
 }},
{"data": {"name": "marker"},
 "mark": {"type": "rule", "color": "#b81c1c", "strokeWidth": 2},
 "encoding": {
  "x": {"field": "a", "type": "quantitative"},
  "y": {"field": "e", "type": "quantitative"}, "y2": {"field": "e2"}
 }},
{"data": {"name": "bracket"},
 "mark": {"type": "rule", "color": "#d8d8d8", "strokeWidth": 2, "yOffset": 21},
 "encoding": {
  "x": {"field": "a", "type": "quantitative"}, "x2": {"field": "a2"},
  "y": {"field": "e", "type": "quantitative"}
 }},
{"data": {"name": "bracketEnds"},
 "mark": {"type": "rule", "color": "#d8d8d8", "strokeWidth": 2, "yOffset": 14, "y2Offset": 22},
 "encoding": {
  "x": {"field": "a", "type": "quantitative"},
  "y": {"field": "e", "type": "quantitative"}, "y2": {"field": "e"}
 }},
{"data": {"name": "caption"},
 "mark": {"type": "text", "color": "#e8e8e8", "fontSize": 18, "baseline": "middle", "align": "center", "dy": 43},
 "encoding": {
  "x": {"field": "a", "type": "quantitative"},
  "y": {"field": "e", "type": "quantitative"},
  "text": {"field": "t"}
 }}
]},
{"data": {"name": "ticks"},
 "mark": {"type": "point", "opacity": 0},
 "encoding": {
  "x": {"field": "v", "type": "quantitative",
        "scale": {"type": "log", "domain": [0.001, 100], "range": [149, 863], "nice": false},
        "axis": {"orient": "bottom", "offset": -361, "values": [0.001, 0.01, 0.1, 1, 10, 100],
                 "labelExpr": "datum.value < 0.005 ? '0.001' : datum.value < 0.05 ? '0.01' : datum.value < 0.5 ? '0.1' : datum.value < 5 ? '1.0' : datum.value < 50 ? '10' : '100'",
                 "ticks": true, "tickColor": "#e0e0e0", "tickSize": 6, "tickWidth": 1.5, "labelColor": "#e8e8e8", "labelFontSize": 16, "labelPadding": 3, "labelFlush": false, "labelOverlap": false, "title": null, "domain": false, "grid": false}}
 }}
],
"resolve": {"scale": {"x": "independent"}, "axis": {"x": "independent"}}
}
